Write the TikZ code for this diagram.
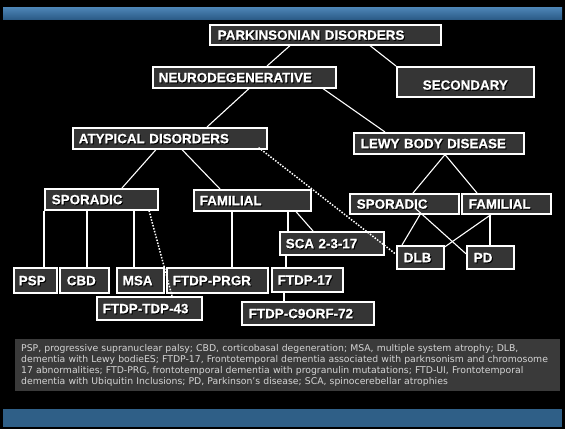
\documentclass[tikz,border=0pt]{standalone}
\usepackage{fontspec}
\setmainfont{Liberation Sans}
\newfontfamily\legendfont{DejaVu Sans}
\newfontfamily\labelfont[FakeBold=0.7]{Liberation Sans Bold}
\definecolor{boxgray}{HTML}{353535}
\definecolor{legendgray}{HTML}{3A3A3A}
\definecolor{legendtext}{HTML}{D4D4D4}
\definecolor{bartop}{HTML}{4E86B8}
\definecolor{barbot}{HTML}{2C5C88}
\definecolor{barflat}{HTML}{2F5F87}
\newcommand\shtext[1]{\rlap{\color{black}\kern1pt\raisebox{-1pt}{#1}}#1}
\begin{document}
\begin{tikzpicture}[x=1pt,y=-1pt,
  box/.style={draw=white, line width=1.6pt, fill=boxgray, text=white,
    font=\labelfont\fontsize{13.4}{14}\selectfont, inner xsep=0pt, inner ysep=0pt,
    anchor=north west, align=left, text height=9.8pt, text depth=0pt},
  conn/.style={draw=white, line width=1.1pt},
  dots/.style={draw=white, line width=1.5pt, dash pattern=on 1.5pt off 1.5pt}]
\useasboundingbox (0,0) rectangle (565,429);
\fill[black] (0,0) rectangle (565,429);
\shade[top color=bartop, bottom color=barbot] (3,7) rectangle (562,19);
\fill[barflat] (3,409) rectangle (562,427);

% boxes
\node[box, text width=231pt, minimum height=20pt] (park) at (209,24) {\hspace*{8pt}\shtext{PARKINSONIAN DISORDERS}};
\node[box, text width=183pt, minimum height=21pt] (neuro) at (152,66) {\hspace*{6pt}\shtext{NEURODEGENERATIVE}};
\node[box, text width=137pt, minimum height=30pt, align=center, text height=15.8pt] (second) at (396,66) {\shtext{SECONDARY}};
\node[box, text width=194pt, minimum height=21pt] (atyp) at (72,127) {\hspace*{6pt}\shtext{ATYPICAL DISORDERS}};
\node[box, text width=170pt, minimum height=21pt] (lewy) at (353,132) {\hspace*{7pt}\shtext{LEWY BODY DISEASE}};
\node[box, text width=113pt, minimum height=21pt] (sporA) at (44,188) {\hspace*{7pt}\shtext{SPORADIC}};
\node[box, text width=117pt, minimum height=21pt] (famA) at (193,189) {\hspace*{6pt}\shtext{FAMILIAL}};
\node[box, text width=43pt, minimum height=25pt] (psp) at (13,267) {\hspace*{5pt}\shtext{PSP}};
\node[box, text width=49pt, minimum height=25pt] (cbd) at (59,267) {\hspace*{7pt}\shtext{CBD}};
\node[box, text width=47pt, minimum height=25pt] (msa) at (116,267) {\hspace*{6pt}\shtext{MSA}};
\node[box, text width=101pt, minimum height=25pt] (prgr) at (166,267) {\hspace*{6pt}\shtext{FTDP-PRGR}};
\node[box, text width=105pt, minimum height=23pt] (tdp) at (96,296) {\hspace*{6pt}\shtext{FTDP-TDP-43}};
\node[box, text width=104pt, minimum height=23pt] (sca) at (279,231) {\hspace*{6pt}\shtext{SCA 2-3-17}};
\node[box, text width=71pt, minimum height=24pt] (ftdp) at (271,267) {\hspace*{6pt}\shtext{FTDP-17}};
\node[box, text width=132pt, minimum height=23pt] (c9) at (241,301) {\hspace*{7pt}\shtext{FTDP-C9ORF-72}};
\node[box, text width=109pt, minimum height=20pt] (sporB) at (349,193) {\hspace*{7pt}\shtext{SPORADIC}};
\node[box, text width=89pt, minimum height=20pt] (famB) at (461,193) {\hspace*{7pt}\shtext{FAMILIAL}};
\node[box, text width=47pt, minimum height=23pt] (dlb) at (396,245) {\hspace*{7pt}\shtext{DLB}};
\node[box, text width=47pt, minimum height=23pt] (pd) at (466,245) {\hspace*{7pt}\shtext{PD}};

% connectors
\draw[conn] ([xshift=81pt]park.south west) -- ([xshift=115pt]neuro.north west);
\draw[conn] ([xshift=161pt]park.south west) -- (second.north west);
\draw[conn] ([xshift=97pt]neuro.south west) -- ([xshift=135pt]atyp.north west);
\draw[conn] ([xshift=171pt]neuro.south west) -- ([xshift=32pt]lewy.north west);
\draw[conn] ([xshift=84pt]atyp.south west) -- ([xshift=78pt]sporA.north west);
\draw[conn] ([xshift=110pt]atyp.south west) -- ([xshift=27pt]famA.north west);
\draw[dots] ([xshift=-9pt,yshift=2pt]atyp.south east) -- ([yshift=3pt]dlb.west);
\draw[conn] (sporA.south west) -- ([xshift=31pt]psp.north west);
\draw[conn] ([xshift=43pt]sporA.south west) -- ([xshift=28pt]cbd.north west);
\draw[conn] ([xshift=90pt]sporA.south west) -- ([xshift=18pt]msa.north west);
\draw[dots] ([xshift=105pt]sporA.south west) -- ([xshift=76pt]tdp.north west);
\draw[conn] ([xshift=39pt]famA.south west) -- ([xshift=66pt]prgr.north west);
\draw[conn] ([xshift=95pt]famA.south west) -- ([xshift=9pt]sca.north west);
\draw[conn] ([xshift=103pt]famA.south west) -- ([xshift=34pt]sca.north west);
\draw[conn] ([xshift=7pt]sca.south west) -- ([xshift=15pt]ftdp.north west);
\draw[conn] ([xshift=13pt]ftdp.south west) -- ([xshift=43pt]c9.north west);
\draw[conn] ([xshift=92pt]lewy.south west) -- ([xshift=64pt]sporB.north west);
\draw[conn] ([xshift=92pt]lewy.south west) -- ([xshift=16pt]famB.north west);
\draw[conn] ([xshift=71pt]sporB.south west) -- ([xshift=6pt]dlb.north west);
\draw[conn] ([xshift=66pt,yshift=-15pt]sporB.north west) -- ([yshift=3.5pt]pd.west);
\draw[conn] ([xshift=30pt]famB.south west) -- ([yshift=-2pt]dlb.north east);
\draw[conn] ([xshift=29pt]famB.south west) -- ([xshift=24pt]pd.north west);

% legend
\node[fill=legendgray, anchor=north west, inner xsep=5pt, inner ysep=0pt,
  text width=535pt, minimum height=52pt, align=left, text=legendtext,
  font=\legendfont\fontsize{9.3}{11}\selectfont] (legend) at (15,339)
  {\hspace*{1pt}PSP, progressive supranuclear palsy; CBD, corticobasal degeneration; MSA, multiple system atrophy; DLB,\\
   \hspace*{1pt}dementia with Lewy bodieES; FTDP-17, Frontotemporal dementia associated with parknsonism and chromosome\\
   \hspace*{1pt}17 abnormalities; FTD-PRG, frontotemporal dementia with progranulin mutatations; FTD-UI, Frontotemporal\\
   \hspace*{1pt}dementia with Ubiquitin Inclusions; PD, Parkinson’s disease; SCA, spinocerebellar atrophies};
\end{tikzpicture}
\end{document}
